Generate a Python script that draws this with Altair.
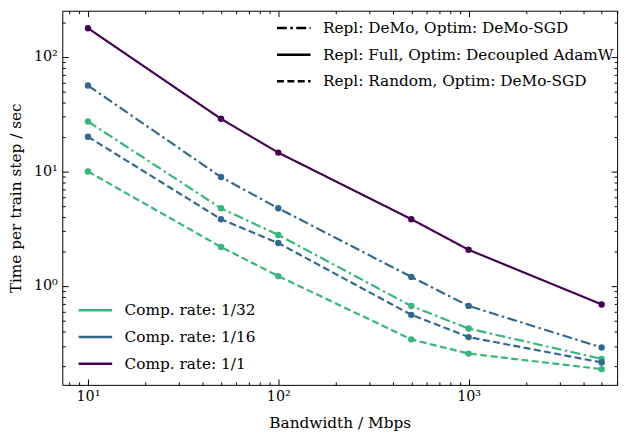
import altair as alt
import pandas as pd

bandwidth = [10, 50, 100, 500, 1000, 5000]
full_1 = [178, 28.8, 14.6, 3.83, 2.07, 0.69]
demo_16 = [56.2, 8.93, 4.77, 1.2, 0.67, 0.29]
demo_32 = [27.3, 4.77, 2.79, 0.668, 0.425, 0.231]
rand_16 = [20.1, 3.83, 2.37, 0.56, 0.358, 0.215]
rand_32 = [10.0, 2.19, 1.22, 0.342, 0.257, 0.188]

rates = ["Comp. rate: 1/32", "Comp. rate: 1/16", "Comp. rate: 1/1"]
repls = ["Repl: DeMo, Optim: DeMo-SGD", "Repl: Full, Optim: Decoupled AdamW",
         "Repl: Random, Optim: DeMo-SGD"]
colors = ["#35b779", "#31688e", "#440154"]
dashes = [[10, 3.5, 2.5, 3.5], [1, 0], [7, 3.5]]

series = [
    (rates[2], repls[1], full_1),
    (rates[1], repls[0], demo_16),
    (rates[0], repls[0], demo_32),
    (rates[1], repls[2], rand_16),
    (rates[0], repls[2], rand_32),
]
rows = []
for rate, repl, vals in series:
    for b, v in zip(bandwidth, vals):
        rows.append({"bw": b, "time": v, "rate": rate, "repl": repl, "sid": rate + repl})
df = pd.DataFrame(rows)

FONT = "DejaVu Serif"
xscale = alt.Scale(type="log", domain=[7.33, 6030], nice=False)
yscale = alt.Scale(type="log", domain=[0.137, 253], nice=False)

x_major = [10, 100, 1000]
x_minor = [8, 9, 20, 30, 40, 50, 60, 70, 80, 90, 200, 300, 400, 500, 600, 700, 800, 900,
           2000, 3000, 4000, 5000, 6000]
y_major = [1, 10, 100]
y_minor = [0.2, 0.3, 0.4, 0.5, 0.6, 0.7, 0.8, 0.9, 2, 3, 4, 5, 6, 7, 8, 9,
           20, 30, 40, 50, 60, 70, 80, 90, 200]

lines = alt.Chart(df).mark_line(strokeWidth=2.2).encode(
    x=alt.X("bw:Q", scale=xscale, axis=alt.Axis(
        orient="bottom", values=x_major, ticks=False, domain=False, grid=False,
        labelExpr="datum.value == 10 ? '10¹' : datum.value == 100 ? '10²' : '10³'",
        labelPadding=5, title="Bandwidth / Mbps", titlePadding=13)),
    y=alt.Y("time:Q", scale=yscale, axis=alt.Axis(
        orient="left", values=y_major, ticks=False, domain=False, grid=False,
        labelExpr="datum.value == 1 ? '10⁰' : datum.value == 10 ? '10¹' : '10²'",
        labelPadding=5, title="Time per train step / sec", titlePadding=10)),
    color=alt.Color("rate:N", scale=alt.Scale(domain=rates, range=colors),
                    legend=alt.Legend(orient="none", legendX=15, legendY=285, title=None,
                                      symbolType="stroke",
                                      symbolSize=1156, symbolStrokeWidth=2.5,
                                      labelOffset=11, rowPadding=0, padding=0,
                                      labelLimit=400)),
    strokeDash=alt.StrokeDash("repl:N", scale=alt.Scale(domain=repls, range=dashes),
                              legend=alt.Legend(orient="none", legendX=216, legendY=-1,
                                                title=None, symbolType="stroke",
                                                symbolSize=1156, symbolStrokeWidth=2.5,
                                                symbolStrokeColor="black",
                                                labelOffset=11, rowPadding=-1, padding=0,
                                                labelLimit=400)),
    detail="sid:N",
)

points = alt.Chart(df).mark_circle(size=42, opacity=1).encode(
    x=alt.X("bw:Q", scale=xscale, axis=None),
    y=alt.Y("time:Q", scale=yscale, axis=None),
    color=alt.Color("rate:N", scale=alt.Scale(domain=rates, range=colors), legend=None),
)


def tick_layer(xo, yo, xv, yv, size):
    return alt.Chart(df).mark_point(opacity=0).encode(
        x=alt.X("bw:Q", scale=xscale, axis=alt.Axis(
            orient=xo, values=xv, labels=False, domain=False, grid=False, ticks=True,
            tickSize=size, offset=-size, title="", tickColor="black", tickWidth=1)),
        y=alt.Y("time:Q", scale=yscale, axis=alt.Axis(
            orient=yo, values=yv, labels=False, domain=False, grid=False, ticks=True,
            tickSize=size, offset=-size, title="", tickColor="black", tickWidth=1)),
    )


layers = [
    lines, points,
    tick_layer("bottom", "left", x_major, y_major, 6),
    tick_layer("bottom", "left", x_minor, y_minor, 3),
    tick_layer("top", "right", x_major, y_major, 6),
    tick_layer("top", "right", x_minor, y_minor, 3),
]

chart = alt.layer(*layers).resolve_axis(x="independent", y="independent").properties(
    width=562, height=379,
    autosize=alt.AutoSizeParams(type="none"),
    padding={"left": 55, "top": 0, "right": 9, "bottom": 46},
).configure_view(stroke="black", strokeWidth=1).configure_axis(
    labelFont=FONT, titleFont=FONT, labelFontSize=14.5, titleFontSize=15.5,
    labelColor="black", titleColor="black", titleFontWeight="normal",
).configure_legend(
    labelFont=FONT, labelFontSize=15.5, labelColor="black",
)

chart.save("out.html", embed_options={"renderer": "svg", "actions": False})
